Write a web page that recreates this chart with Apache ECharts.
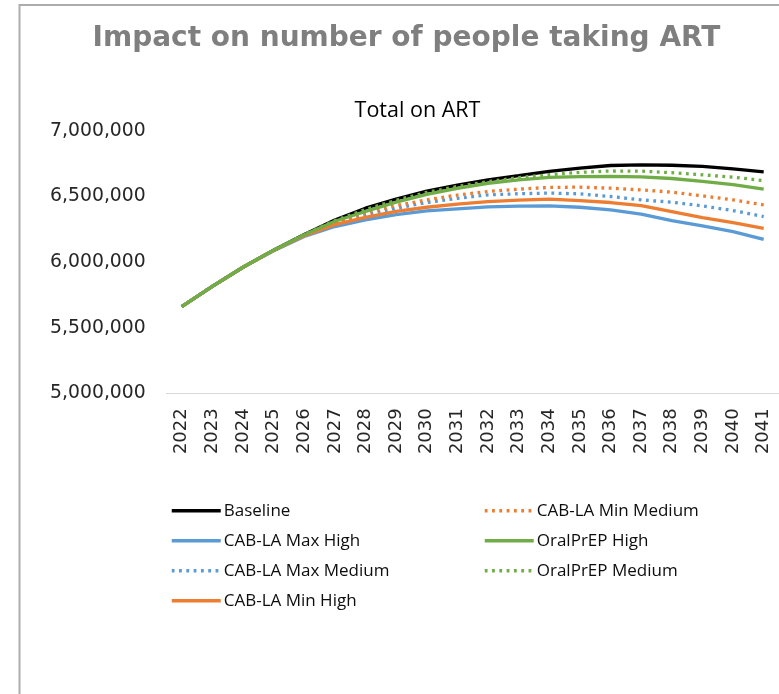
<!DOCTYPE html>
<html>
<head>
<meta charset="utf-8">
<script src="https://cdn.jsdelivr.net/npm/echarts@6/dist/echarts.min.js"></script>
<style>
html,body{margin:0;padding:0;background:#fff;}
#chart{width:779px;height:694px;}
</style>
</head>
<body>
<div id="chart"></div>
<script>
const years = ['2022','2023','2024','2025','2026','2027','2028','2029','2030','2031','2032','2033','2034','2035','2036','2037','2038','2039','2040','2041'];
const yTicks = [5000000, 5500000, 6000000, 6500000, 7000000];
const baseline      = [5660000,5815000,5960000,6090000,6210000,6320000,6410000,6480000,6540000,6585000,6625000,6657000,6690000,6715000,6735000,6740000,6737000,6728000,6710000,6687000];
const cabMaxHigh    = [5660000,5815000,5960000,6085000,6195000,6270000,6320000,6360000,6390000,6405000,6420000,6425000,6427000,6417000,6397000,6365000,6315000,6275000,6231000,6173000];
const cabMaxMedium  = [5660000,5815000,5960000,6090000,6200000,6290000,6360000,6410000,6453000,6485000,6511000,6520000,6525000,6519000,6499000,6473000,6456000,6427000,6392000,6346000];
const cabMinHigh    = [5660000,5815000,5960000,6088000,6200000,6285000,6340000,6385000,6417000,6440000,6460000,6472000,6479000,6468000,6453000,6430000,6384000,6338000,6300000,6257000];
const cabMinMedium  = [5660000,5815000,5960000,6090000,6205000,6300000,6375000,6430000,6473000,6510000,6537000,6555000,6568000,6570000,6562000,6549000,6532000,6504000,6473000,6435000];
const oralHigh      = [5660000,5815000,5960000,6090000,6208000,6310000,6385000,6455000,6515000,6560000,6598000,6625000,6645000,6650000,6652000,6648000,6636000,6614000,6590000,6555000];
const oralMedium    = [5660000,5815000,5960000,6090000,6210000,6315000,6400000,6470000,6530000,6575000,6612000,6643000,6665000,6683000,6693000,6692000,6680000,6664000,6646000,6620000];

const seriesNames = ['Baseline','CAB-LA Max High','CAB-LA Max Medium','CAB-LA Min High','CAB-LA Min Medium','OralPrEP High','OralPrEP Medium'];
const seriesData = [baseline, cabMaxHigh, cabMaxMedium, cabMinHigh, cabMinMedium, oralHigh, oralMedium];
const seriesColors = ['#000000','#5b9bd5','#5b9bd5','#ed7d31','#ed7d31','#70ad47','#70ad47'];
const seriesDotted = [false,false,true,false,true,false,true];

const chart = echarts.init(document.getElementById('chart'), null, {renderer:'canvas'});
const fmt = v => v.toString().replace(/\B(?=(\d{3})+(?!\d))/g, ',');

const legendCommon = {
  orient:'vertical', top:497.2, itemWidth:49, itemHeight:14, itemGap:13,
  itemStyle:{opacity:0},
  lineStyle:{width:3.5},
  textStyle:{fontFamily:'Open Sans', fontSize:17, color:'#0d0d0d', padding:[0,0,0,-2]}
};

const option = {
  backgroundColor:'#ffffff',
  animation:false,
  title:[
    {text:'Impact on number of people taking ART', left:406.5, top:38.5, padding:0, textAlign:'center', textVerticalAlign:'middle',
     textStyle:{fontFamily:'DejaVu Sans', fontWeight:'bold', fontSize:28, color:'#7f7f7f'}},
    {text:'Total on ART', left:417.5, top:111, padding:0, textAlign:'center', textVerticalAlign:'middle',
     textStyle:{fontFamily:'Open Sans', fontWeight:'normal', fontSize:21.5, color:'#000000'}}
  ],
  graphic:[
    {type:'rect', shape:{x:19.5, y:5, width:820, height:760}, style:{fill:'none', stroke:'#adadad', lineWidth:2}, silent:true}
  ],
  grid:{left:166.4, top:130.7, width:622.2, height:262.6, containLabel:false},
  legend:[
    Object.assign({}, legendCommon, {data:seriesNames.slice(0,4), left:165}),
    Object.assign({}, legendCommon, {data:seriesNames.slice(4), left:478})
  ],
  xAxis:{type:'category', data:years, boundaryGap:true,
    axisLine:{show:true, lineStyle:{color:'#d9d9d9', width:1}},
    axisTick:{show:false},
    axisLabel:{rotate:90, margin:15, fontFamily:'DejaVu Sans', fontSize:18, color:'#262626', interval:0},
    splitLine:{show:false}},
  yAxis:{type:'value', min:yTicks[0], max:yTicks[yTicks.length-1], interval:500000,
    axisLine:{show:false}, axisTick:{show:false}, splitLine:{show:false},
    axisLabel:{margin:20.7, padding:[4,0,0,0], fontFamily:'DejaVu Sans', fontSize:18.8, color:'#262626', formatter:fmt}},
  series: seriesNames.map((n,i)=>({
    name:n, type:'line', data:seriesData[i], symbol:'none', smooth:false,
    itemStyle:{color:seriesColors[i]},
    lineStyle:{color:seriesColors[i], width:3.3, type: seriesDotted[i] ? [2.8,4.5] : 'solid', cap:'butt'}
  }))
};
chart.setOption(option);
</script>
</body>
</html>
